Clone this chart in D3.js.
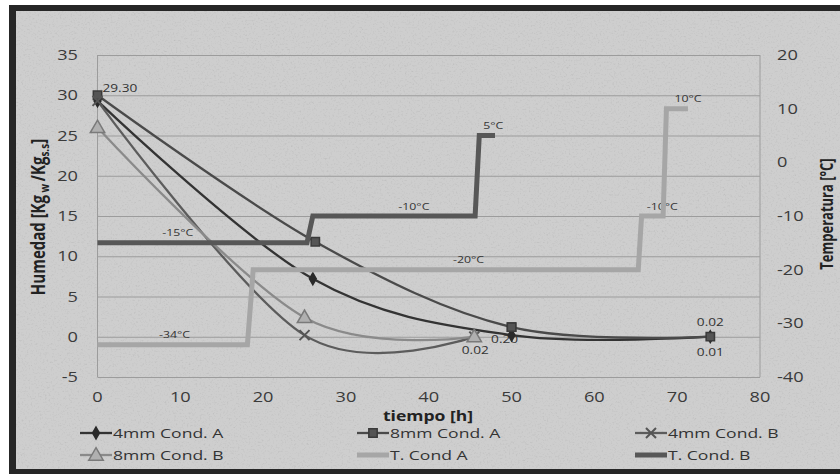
<!DOCTYPE html>
<html><head><meta charset="utf-8">
<script src="https://cdn.jsdelivr.net/npm/d3@7"></script>
<style>
html,body{margin:0;padding:0;background:#fff;}
svg{display:block;}
text{font-family:"Open Sans",sans-serif;}
</style></head>
<body>
<svg id="c" width="840" height="474"></svg>
<script>
// ---- data ----
const xTicks = [0,10,20,30,40,50,60,70,80];
const yLeftTicks = [-5,0,5,10,15,20,25,30,35];
const yRightTicks = [-40,-30,-20,-10,0,10,20];

const t4A = [0, 26, 50, 74];
const h4A = [29.3, 7.2, 0.2, 0.01];
const t8A = [0, 26.3, 50, 74];
const h8A = [30.0, 11.8, 1.2, 0.02];
const t4B = [0, 25, 45.5];
const h4B = [29.3, 0.2, 0.02];
const t8B = [0, 25, 45.5];
const h8B = [26.0, 2.4, 0.02];

const tTA = [0, 18.1, 18.8, 65.3, 65.7, 68.3, 68.7, 71.3];
const vTA = [-34, -34, -20, -20, -10, -10, 10, 10];
const tTB = [0, 25.3, 26, 45.6, 46.1, 48];
const vTB = [-15, -15, -10, -10, 5, 5];

const seriesNames = ["4mm Cond. A","8mm Cond. A","4mm Cond. B","8mm Cond. B","T. Cond A","T. Cond. B"];

// temperature label anchors (time, temperature, text)
const tempLabT = [9.3, 9.7, 38.2, 47.8, 44.8, 68.2, 71.3];
const tempLabV = [-34, -15, -10, 5, -20, -10, 10];
const tempLabS = ["-34°C","-15°C","-10°C","5°C","-20°C","-10°C","10°C"];

// humidity data labels (series index, point index, text)
const humLabSeries = [0, 3, 0, 1, 0];
const humLabPoint  = [0, 2, 2, 3, 3];
const humLabText   = ["29.30", "0.02", "0.20", "0.02", "0.01"];

// ---- drawing ----
const svg = d3.select("#c");
const SX = 1.3;
const x = d3.scaleLinear().domain([0,80]).range([97.5,760]);
const yL = d3.scaleLinear().domain([-5,35]).range([377,55]);
const yR = d3.scaleLinear().domain([-40,20]).range([377,55]);

// background + texture
const defs = svg.append("defs");
const f = defs.append("filter").attr("id","noise").attr("x",0).attr("y",0).attr("width","100%").attr("height","100%");
f.append("feTurbulence").attr("type","fractalNoise").attr("baseFrequency",0.55).attr("numOctaves",2).attr("seed",4).attr("result","n");
f.append("feColorMatrix").attr("type","matrix").attr("values","0 0 0 0 0  0 0 0 0 0  0 0 0 0 0  0.33 0.33 0.33 0 -0.5").attr("in","n");

svg.append("rect").attr("x",0).attr("y",0).attr("width",840).attr("height",474).attr("fill","#fff");
svg.append("rect").attr("x",9).attr("y",5).attr("width",831).attr("height",469).attr("fill","#cecece");
svg.append("rect").attr("x",9).attr("y",5).attr("width",831).attr("height",469).attr("filter","url(#noise)").attr("opacity",0.25);
// frame
svg.append("rect").attr("x",9).attr("y",5).attr("width",831).attr("height",6).attr("fill","#262626");
svg.append("rect").attr("x",9).attr("y",5).attr("width",7).attr("height",469).attr("fill","#262626");
svg.append("rect").attr("x",9).attr("y",469).attr("width",831).attr("height",5).attr("fill","#262626");

// gridlines via axis
const grid = svg.append("g").attr("transform",`translate(${x(0)},0)`)
  .call(d3.axisLeft(yL).tickValues(yLeftTicks).tickSize(-(x(80)-x(0))).tickFormat(""));
grid.select(".domain").remove();
grid.selectAll("line").attr("stroke","#9c9c9c").attr("stroke-width",1);
// axis lines
svg.append("line").attr("x1",x(0)).attr("x2",x(0)).attr("y1",yL(35)).attr("y2",yL(-5)).attr("stroke","#9c9c9c");
svg.append("line").attr("x1",x(80)).attr("x2",x(80)).attr("y1",yL(35)).attr("y2",yL(-5)).attr("stroke","#9c9c9c");

function stext(g, px, py, str, size, anchor, weight, fill) {
  return g.append("text")
    .attr("transform",`translate(${px},${py}) scale(${SX},1)`)
    .attr("text-anchor",anchor||"start")
    .attr("font-size",size)
    .attr("font-weight",weight||"normal")
    .attr("fill",fill||"#333")
    .text(str);
}

const lab = svg.append("g");
yLeftTicks.forEach(v => stext(lab, 78, yL(v)+5, String(v), 14, "end", "normal", "#3a3a3a"));
yRightTicks.forEach(v => stext(lab, 777, yR(v)+5, String(v), 14, "start", "normal", "#3a3a3a"));
xTicks.forEach(v => stext(lab, x(v), 402, String(v), 14, "middle", "normal", "#3a3a3a"));

// axis titles
stext(lab, 428, 421, "tiempo [h]", 13.5, "middle", "bold", "#222");
const lt = svg.append("text")
  .attr("transform","translate(45,217) scale(1.3,1) rotate(-90)")
  .attr("text-anchor","middle").attr("font-size",15).attr("font-weight","bold").attr("fill","#222");
lt.append("tspan").text("Humedad [Kg");
lt.append("tspan").attr("font-size",10).attr("dy",3).text(" w ");
lt.append("tspan").attr("dy",-3).text("/Kg");
lt.append("tspan").attr("font-size",10).attr("dy",3).text("s.s");
lt.append("tspan").attr("dy",-3).text("]");
svg.append("text")
  .attr("transform","translate(833,214) scale(1.3,1) rotate(-90)")
  .attr("text-anchor","middle").attr("font-size",13).attr("font-weight","bold").attr("fill","#222")
  .text("Temperatura [°C]");

// series
const curve = d3.curveCardinal.tension(0);
const humSeries = [
  {t:t4A, h:h4A, color:"#333333", mk:"diamond", mfill:"#2a2a2a", mstroke:"#2a2a2a"},
  {t:t8A, h:h8A, color:"#4a4a4a", mk:"square", mfill:"#555", mstroke:"#3a3a3a"},
  {t:t4B, h:h4B, color:"#5c5c5c", mk:"x", mfill:"none", mstroke:"#555"},
  {t:t8B, h:h8B, color:"#8a8a8a", mk:"triangle", mfill:"#b0b0b0", mstroke:"#7a7a7a"}
];
const tempSeries = [
  {t:tTA, v:vTA, color:"#a6a6a6"},
  {t:tTB, v:vTB, color:"#575757"}
];

function marker(g, type, cx, cy, fill, stroke) {
  if (type === "x") {
    g.append("path").attr("d",`M${cx-5},${cy-5}L${cx+5},${cy+5}M${cx-5},${cy+5}L${cx+5},${cy-5}`)
      .attr("stroke",stroke).attr("stroke-width",2).attr("fill","none");
    return;
  }
  const sym = type==="diamond" ? d3.symbolDiamond : type==="square" ? d3.symbolSquare : d3.symbolTriangle;
  const size = type==="diamond" ? 40 : type==="square" ? 70 : 90;
  g.append("path").attr("d",d3.symbol().type(sym).size(size)())
    .attr("transform",`translate(${cx},${cy + (type==="triangle"?1:0)})`)
    .attr("fill",fill).attr("stroke",stroke).attr("stroke-width",1.5);
}

const lineH = d3.line().curve(curve);
const gH = svg.append("g");
humSeries.forEach(s => {
  const pts = s.t.map((t,i) => [x(t), yL(s.h[i])]);
  gH.append("path").attr("d",lineH(pts)).attr("fill","none").attr("stroke",s.color).attr("stroke-width",2.3);
});
humSeries.forEach(s => {
  s.t.forEach((t,i) => marker(gH, s.mk, x(t), yL(s.h[i]), s.mfill, s.mstroke));
});

const lineT = d3.line();
const gT = svg.append("g");
tempSeries.forEach(s => {
  const pts = s.t.map((t,i) => [x(t), yR(s.v[i])]);
  gT.append("path").attr("d",lineT(pts)).attr("fill","none").attr("stroke",s.color).attr("stroke-width",5).attr("stroke-linejoin","miter");
});

// temperature labels
tempLabT.forEach((t,i) => stext(lab, x(t), yR(tempLabV[i]) - 6.5, tempLabS[i], 9.5, "middle", "normal", "#333"));

// humidity data labels
const humOff = [[5,-9,"start"],[1,17,"middle"],[-7,8,"middle"],[0,-11,"middle"],[0,19,"middle"]];
humLabText.forEach((txt,i) => {
  const s = humSeries[humLabSeries[i]];
  const p = humLabPoint[i];
  const o = humOff[i];
  stext(lab, x(s.t[p]) + o[0], yL(s.h[p]) + o[1], txt, 10.5, o[2], "normal", "#333");
});
// redraw marker at 50h over the label
marker(gH.append("g").raise(), "square", x(t8A[2]), yL(h8A[2]), "#555", "#3a3a3a");

// legend
const legCols = [80, 357, 635];
const legRows = [433, 455];
const legend = svg.append("g");
const legStyle = [
  {color:"#333333", w:2.3, mk:"diamond", mfill:"#2a2a2a", mstroke:"#2a2a2a"},
  {color:"#4a4a4a", w:2.3, mk:"square", mfill:"#555", mstroke:"#3a3a3a"},
  {color:"#5c5c5c", w:2.3, mk:"x", mfill:"none", mstroke:"#555"},
  {color:"#8a8a8a", w:2.3, mk:"triangle", mfill:"#b0b0b0", mstroke:"#7a7a7a"},
  {color:"#a6a6a6", w:5, mk:null},
  {color:"#575757", w:5, mk:null}
];
seriesNames.forEach((name,i) => {
  const cx = legCols[i%3], cy = legRows[Math.floor(i/3)];
  const st = legStyle[i];
  legend.append("line").attr("x1",cx).attr("x2",cx+32).attr("y1",cy).attr("y2",cy)
    .attr("stroke",st.color).attr("stroke-width",st.w);
  if (st.mk) marker(legend, st.mk, cx+16, cy, st.mfill, st.mstroke);
  stext(legend, cx+33, cy+5, name, 13.5, "start", "normal", "#333");
});
</script>
</body></html>
